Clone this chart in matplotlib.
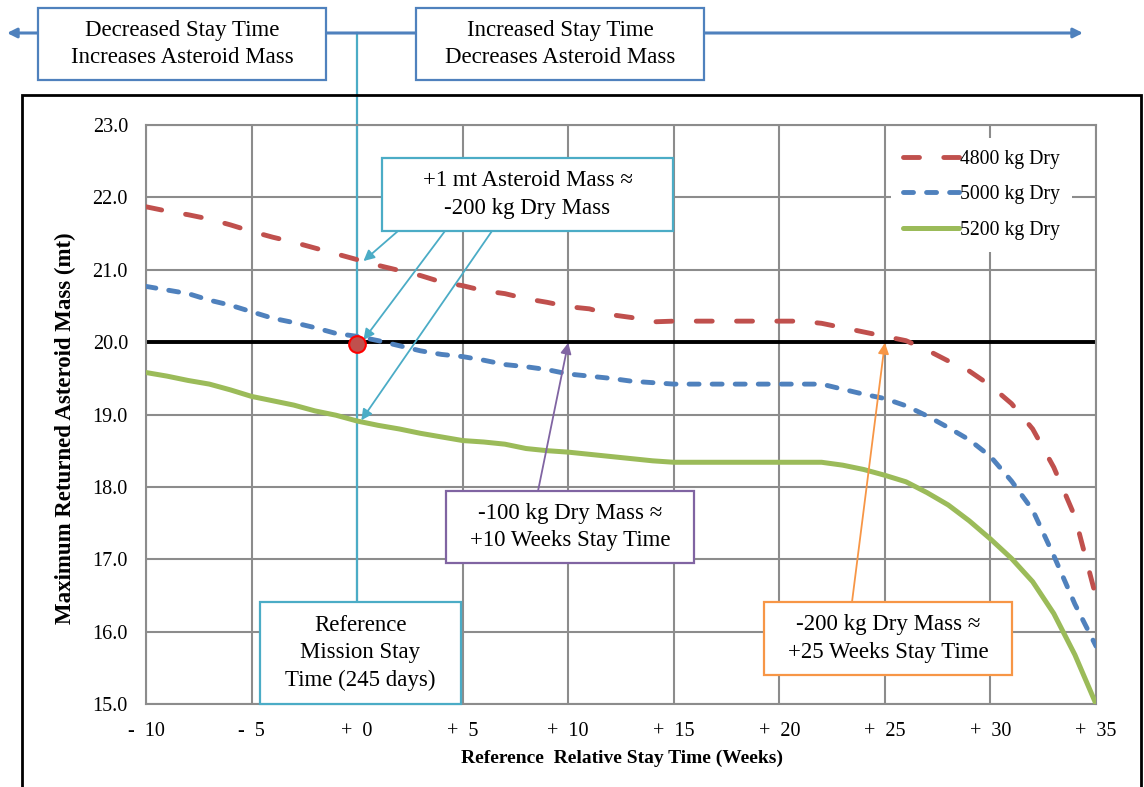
import matplotlib
matplotlib.use("Agg")
import matplotlib.pyplot as plt
from matplotlib.patches import Rectangle, FancyArrowPatch
import matplotlib.transforms as mtransforms

plt.rcParams['font.family'] = ['Liberation Serif', 'DejaVu Serif']
plt.rcParams['lines.scale_dashes'] = False

# ---------------- data ----------------
weeks = list(range(-10, 36))
mass_4800 = [21.87, 21.81, 21.76, 21.70, 21.62, 21.53, 21.45, 21.38, 21.30, 21.22,
             21.14, 21.06, 20.99, 20.92, 20.83, 20.78, 20.71, 20.67, 20.60, 20.55,
             20.49, 20.46, 20.38, 20.34, 20.28, 20.29, 20.29, 20.29, 20.29, 20.29,
             20.29, 20.29, 20.26, 20.20, 20.14, 20.08, 20.02, 19.89, 19.74, 19.60,
             19.40, 19.15, 18.80, 18.27, 17.59, 16.48]
mass_5000 = [20.77, 20.72, 20.67, 20.58, 20.51, 20.42, 20.33, 20.27, 20.20, 20.12,
             20.08, 20.02, 19.95, 19.88, 19.83, 19.80, 19.75, 19.69, 19.66, 19.62,
             19.56, 19.53, 19.50, 19.46, 19.44, 19.42, 19.42, 19.42, 19.42, 19.42,
             19.42, 19.42, 19.42, 19.35, 19.28, 19.22, 19.12, 18.98, 18.82, 18.65,
             18.42, 18.08, 17.68, 17.05, 16.38, 15.80]
mass_5200 = [19.58, 19.53, 19.47, 19.42, 19.34, 19.25, 19.19, 19.13, 19.05, 18.99,
             18.91, 18.85, 18.80, 18.74, 18.69, 18.64, 18.62, 18.59, 18.53, 18.50,
             18.48, 18.45, 18.42, 18.39, 18.36, 18.34, 18.34, 18.34, 18.34, 18.34,
             18.34, 18.34, 18.34, 18.30, 18.24, 18.16, 18.07, 17.92, 17.75, 17.53,
             17.28, 17.01, 16.69, 16.25, 15.68, 15.00]
series_labels = ['4800 kg Dry', '5000 kg Dry', '5200 kg Dry']
reference_mass = 20.0
reference_point = (0, 19.97)

xticks = [-10, -5, 0, 5, 10, 15, 20, 25, 30, 35]
xtick_labels = ['-  10', '-  5', '+  0', '+  5', '+  10', '+  15', '+  20', '+  25', '+  30', '+  35']
yticks = [15, 16, 17, 18, 19, 20, 21, 22, 23]
ytick_labels = ['15.0', '16.0', '17.0', '18.0', '19.0', '20.0', '21.0', '22.0', '23.0']

# ---------------- figure ----------------
W, H = 1144, 787
fig = plt.figure(figsize=(W / 100, H / 100), dpi=100)
ax = fig.add_axes([146 / W, 1 - 704 / H, (1096 - 146) / W, (704 - 125) / H])

RED = '#C0504D'; BLUE = '#4F81BD'; GREEN = '#9BBB59'
CYAN = '#4BACC6'; PURPLE = '#8064A2'; ORANGE = '#F79646'; GRID = '#8C8C8C'

ax.set_xlim(-10, 35)
ax.set_ylim(15, 23)
ax.set_axisbelow(True)
ax.grid(True, color=GRID, lw=1.5)
for s in ax.spines.values():
    s.set_color(GRID)
    s.set_linewidth(1.5)
ax.set_xticks(xticks)
ax.set_xticklabels(xtick_labels)
ax.set_yticks(yticks)
ax.set_yticklabels(ytick_labels)
ax.tick_params(length=0, labelsize=14.5, colors='black')
ax.tick_params(axis='x', pad=13)
ax.tick_params(axis='y', pad=13)

ax.set_xlabel('Reference  Relative Stay Time (Weeks)', fontsize=14, fontweight='bold')
ax.xaxis.set_label_coords(0.501, -(758 - 704) / 579)
ax.xaxis.label.set_verticalalignment('center')
ax.set_ylabel('Maximum Returned Asteroid Mass (mt)', fontsize=16.5, fontweight='bold')
ax.yaxis.set_label_coords((65 - 146) / 950, (704 - 428) / 579)
ax.yaxis.label.set_verticalalignment('center')

ax.axhline(reference_mass, color='black', lw=2.8, zorder=2)

l1, = ax.plot(weeks, mass_4800, color=RED, lw=3.5, solid_capstyle='round',
              dash_capstyle='round', zorder=3, label=series_labels[0])
l1.set_dashes([11.5, 17.5])
l2, = ax.plot(weeks, mass_5000, color=BLUE, lw=3.5, dash_capstyle='round',
              zorder=3, label=series_labels[1])
l2.set_dashes([7.2, 9.4])
l3, = ax.plot(weeks, mass_5200, color=GREEN, lw=3.6, solid_capstyle='round',
              zorder=3, label=series_labels[2])

ax.plot([reference_point[0]], [reference_point[1]], 'o', ms=12, mfc=RED, mec='red',
        mew=1.5, zorder=5)

leg = ax.legend(loc='upper right', bbox_to_anchor=(0.985, 0.995), fontsize=14.2,
                frameon=True, facecolor='white', edgecolor='none', framealpha=1,
                handlelength=2.85, handletextpad=0.05, labelspacing=0.85,
                borderpad=0.6, fancybox=False)
leg.set_zorder(6)

# cyan vertical line for the reference mission (x in data, y in figure pixels)
blend = mtransforms.blended_transform_factory(ax.transData, fig.transFigure)
ax.plot([0, 0], [1 - 33 / H, 1 - 602 / H], color=CYAN, lw=1.6, transform=blend,
        clip_on=False, zorder=2.5)


def fp(x, y):
    return (x, H - y)


def arrow(tip, start, color):
    ax.annotate('', xy=tip, xycoords='data', xytext=fp(*start),
                textcoords='figure pixels',
                arrowprops=dict(arrowstyle='-|>', color=color, lw=1.3,
                                mutation_scale=16, shrinkA=0, shrinkB=0),
                zorder=4, annotation_clip=False)


arrow((0.3, 21.12), (398, 231), CYAN)
arrow((0.3, 20.03), (445, 231), CYAN)
arrow((0.2, 18.92), (492, 231), CYAN)
arrow((10, 19.99), (538, 491), PURPLE)
arrow((25, 19.99), (852, 602), ORANGE)


def px_box(x0, y0, x1, y1, color, text, fs, lw=1.6):
    r = Rectangle((x0 / W, 1 - y1 / H), (x1 - x0) / W, (y1 - y0) / H,
                  transform=fig.transFigure, facecolor='white', edgecolor=color,
                  lw=lw, zorder=5)
    fig.add_artist(r)
    fig.text((x0 + x1) / 2 / W, 1 - (y0 + y1) / 2 / H, text, ha='center',
             va='center', fontsize=fs, linespacing=1.42, zorder=6)


# top direction arrow
top = FancyArrowPatch((7 / W, 1 - 33 / H), (1083 / W, 1 - 33 / H),
                      transform=fig.transFigure, arrowstyle='<|-|>',
                      mutation_scale=14, color=BLUE, lw=2.2, shrinkA=0, shrinkB=0,
                      zorder=4)
fig.add_artist(top)

px_box(38, 8, 326, 80, BLUE, 'Decreased Stay Time\nIncreases Asteroid Mass', 16.5)
px_box(416, 8, 704, 80, BLUE, 'Increased Stay Time\nDecreases Asteroid Mass', 16.5)
px_box(382, 158, 673, 231, CYAN, '+1 mt Asteroid Mass \u2248\n-200 kg Dry Mass', 16.5)
px_box(446, 491, 694, 563, PURPLE, '-100 kg Dry Mass \u2248\n+10 Weeks Stay Time', 16.5)
px_box(764, 602, 1012, 675, ORANGE, '-200 kg Dry Mass \u2248\n+25 Weeks Stay Time', 16.5)
px_box(260, 602, 461, 704, CYAN, 'Reference\nMission Stay\nTime (245 days)', 16.5)

# outer black frame
frame = Rectangle((22 / W, -0.05), (1141 - 22) / W, 1 - 95 / H + 0.05,
                  transform=fig.transFigure, facecolor='none', edgecolor='black',
                  lw=2, zorder=3)
fig.add_artist(frame)

fig.savefig('out.png', dpi=100)
